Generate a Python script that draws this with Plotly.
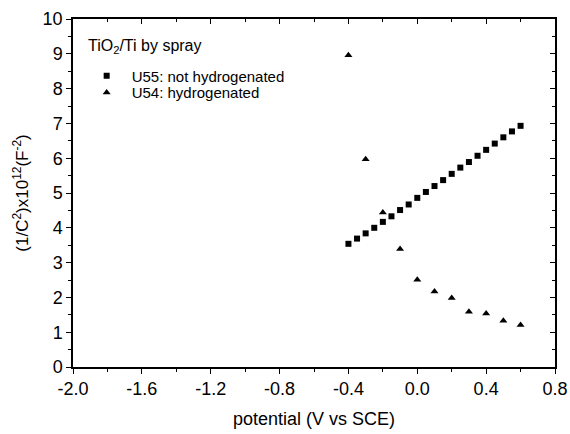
import plotly.graph_objects as go

# Mott-Schottky data: potential (V vs SCE) and 1/C^2 (x10^12 F^-2)
u55_potential = [-0.40, -0.35, -0.30, -0.25, -0.20, -0.15, -0.10, -0.05, 0.00, 0.05,
                 0.10, 0.15, 0.20, 0.25, 0.30, 0.35, 0.40, 0.45, 0.50, 0.55, 0.60]
u55_invc2 = [3.54, 3.69, 3.84, 4.00, 4.17, 4.33, 4.51, 4.67, 4.86, 5.03,
             5.20, 5.37, 5.55, 5.73, 5.89, 6.07, 6.24, 6.42, 6.60, 6.77, 6.93]

u54_potential = [-0.4, -0.3, -0.2, -0.1, 0.0, 0.1, 0.2, 0.3, 0.4, 0.5, 0.6]
u54_invc2 = [8.96, 5.97, 4.44, 3.39, 2.51, 2.17, 1.98, 1.59, 1.54, 1.33, 1.21]

x_ticks = [-2.0, -1.6, -1.2, -0.8, -0.4, 0.0, 0.4, 0.8]
y_ticks = list(range(0, 11))

FONT = "Liberation Sans, Arial, sans-serif"

fig = go.Figure()
fig.add_trace(go.Scatter(
    x=u55_potential, y=u55_invc2, mode="markers", name="U55: not hydrogenated",
    marker=dict(symbol="square", size=6, color="black"), legend="legend",
))
fig.add_trace(go.Scatter(
    x=u54_potential, y=u54_invc2, mode="markers", name="U54: hydrogenated",
    marker=dict(symbol="triangle-up", size=7, color="black"), legend="legend2",
))
# invisible trace holding the mirrored top/right axes
fig.add_trace(go.Scatter(x=[None], y=[None], xaxis="x2", yaxis="y2",
                         showlegend=False, hoverinfo="skip"))

axis_common = dict(showline=True, linecolor="black", linewidth=1.5,
                   showgrid=False, zeroline=False, ticklen=5, tickwidth=1.2,
                   tickcolor="black", automargin=False)

legend_common = dict(xanchor="left", yanchor="middle", bgcolor="rgba(0,0,0,0)",
                     font=dict(size=15, family=FONT), itemwidth=40,
                     borderwidth=0)

fig.update_layout(
    width=570, height=434,
    margin=dict(l=73, r=15, t=19, b=67),
    paper_bgcolor="white", plot_bgcolor="white",
    font=dict(family=FONT, color="black"),
    showlegend=True,
    legend=dict(x=0.018, y=0.836, **legend_common),
    legend2=dict(x=0.018, y=0.788, **legend_common),
    annotations=[dict(
        text="TiO<sub>2</sub>/Ti by spray", xref="paper", yref="paper",
        x=0.028, y=0.922, xanchor="left", yanchor="middle", showarrow=False,
        font=dict(size=16, family=FONT),
    )],
    xaxis=dict(
        range=[-2.0, 0.8], tickvals=x_ticks, ticktext=[f"{v:.1f}" for v in x_ticks],
        ticks="outside", tickfont=dict(size=18),
        minor=dict(dtick=0.2, tick0=0, ticks="outside", ticklen=3, tickcolor="black"),
        title=dict(text="potential (V vs SCE)", font=dict(size=18), standoff=14),
        **axis_common,
    ),
    yaxis=dict(
        range=[0, 10], tickvals=y_ticks, ticks="outside", tickfont=dict(size=18),
        minor=dict(dtick=0.5, tick0=0, ticks="outside", ticklen=3, tickcolor="black"),
        title=dict(text="(1/C<sup>2</sup>)x10<sup>12</sup>(F<sup>-2</sup>)",
                   font=dict(size=17), standoff=10),
        **axis_common,
    ),
    xaxis2=dict(
        range=[-2.0, 0.8], tickvals=x_ticks, overlaying="x", side="top",
        anchor="y", ticks="inside", showticklabels=False,
        minor=dict(dtick=0.2, tick0=0, ticks="inside", ticklen=3, tickcolor="black"),
        **axis_common,
    ),
    yaxis2=dict(
        range=[0, 10], tickvals=y_ticks, overlaying="y", side="right",
        anchor="x", ticks="inside", showticklabels=False,
        minor=dict(dtick=0.5, tick0=0, ticks="inside", ticklen=3, tickcolor="black"),
        **axis_common,
    ),
)

fig.write_html("out.html")
